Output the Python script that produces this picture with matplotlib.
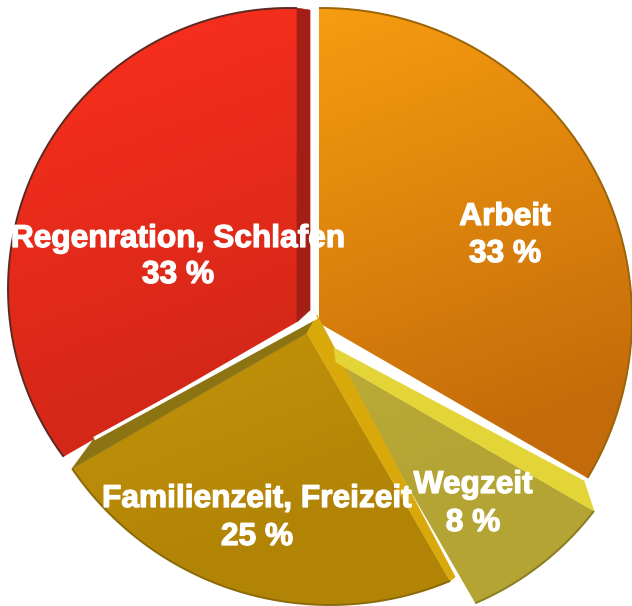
import numpy as np
import matplotlib.pyplot as plt
from matplotlib.patches import Polygon
from matplotlib.colors import to_rgb
import matplotlib.patheffects as pe

# data: hours per day
labels = ['Arbeit', 'Wegzeit', 'Familienzeit, Freizeit', 'Regenration, Schlafen']
hours = [8, 2, 6, 8]
percent = [round(h / sum(hours) * 100) for h in hours]

# look of the faux 3d pie (pixel units, y pointing down)
face_top = ['#ffa511', '#d2c242', '#d8a70e', '#fa2f1d']
face_bottom = ['#c36a0a', '#b3a434', '#b28406', '#c42416']
rim = ['#9a6408', '#8a7c20', '#8a6a08', '#5a2a22']
apex = [(319, 323), (336, 362), (307, 333), (297, 322)]
disc = [(322, 318, 310), (359, 331, 296), (330, 293, 312), (289, 289, 281)]
# (slice, edge, offset at apex, offset at rim, colour, white gap on top)
walls = [(2, 'end', (10, -16), (22, -30), '#8d7413', True),
         (2, 'start', (10, -18), (5, -4), '#d9a90c', False),
         (1, 'start', (-2, -14), (-10, -30), '#e3d538', False),
         (3, 'end', (13, -12), (13, 2), '#a31f15', False)]
label_pos = [(505, 225, 262), (473, 493, 531), (257, 507, 545), (178, 247, 283)]
draw_order = [3, 2, 1, 0]

W, H = 632, 606
fig = plt.figure(figsize=(W / 100, H / 100), dpi=100)
ax = fig.add_axes([0, 0, 1, 1])
ax.set_xlim(0, W)
ax.set_ylim(H, 0)
ax.axis('off')


def ray_hit(a, c, r, ang):
    d = np.array([np.cos(np.radians(ang)), -np.sin(np.radians(ang))])
    p = np.array(a, float) - np.array(c, float)
    b = p @ d
    t = -b + np.sqrt(b * b - (p @ p - r * r))
    return np.array(a, float) + t * d


total = sum(hours)
cum = np.concatenate([[0], np.cumsum(hours)])
start = 90 - 360 * cum[:-1] / total
end = 90 - 360 * cum[1:] / total

yy, xx = np.mgrid[0:H, 0:W]
t = np.clip((xx * 0.35 + yy * 0.94 - 40) / 560, 0, 1)[..., None]

for i in draw_order:
    a = np.array(apex[i], float)
    cx, cy, r = disc[i]
    p1 = ray_hit(a, (cx, cy), r, start[i])
    p2 = ray_hit(a, (cx, cy), r, end[i])
    f1 = np.degrees(np.arctan2(-(p1[1] - cy), p1[0] - cx))
    f2 = np.degrees(np.arctan2(-(p2[1] - cy), p2[0] - cx))
    while f2 > f1:
        f2 -= 360
    phi = np.radians(np.linspace(f1, f2, 200))
    arc = np.column_stack([cx + r * np.cos(phi), cy - r * np.sin(phi)])

    for (s, edge, vin, vout, col, gap) in walls:
        if s != i:
            continue
        q = p1 if edge == 'start' else p2
        quad = np.array([a, q, q + np.array(vout), a + np.array(vin)])
        ax.add_patch(Polygon(quad, closed=True, fc=col, ec=col, lw=0.5))
        if gap:
            ax.plot(quad[2:, 0], quad[2:, 1], color='white', lw=2.6,
                    solid_capstyle='butt')

    poly = np.vstack([a, arc])
    face = Polygon(poly, closed=True, fc='none', ec='none')
    ax.add_patch(face)
    # gradient, light top-left to dark bottom-right
    c0 = np.array(to_rgb(face_top[i]))
    c1 = np.array(to_rgb(face_bottom[i]))
    img = c0 * (1 - t) + c1 * t
    im = ax.imshow(img, extent=(0, W, H, 0), interpolation='bilinear')
    im.set_clip_path(face)
    ax.plot(arc[:, 0], arc[:, 1], color=rim[i], lw=1.4, solid_capstyle='butt')

fx = [pe.withStroke(linewidth=0.9, foreground='white')]
for i in range(len(labels)):
    x, y1, y2 = label_pos[i]
    ax.text(x, y1, labels[i], color='white', fontsize=22.8, fontweight='bold',
            family='Liberation Sans', ha='center', va='baseline', zorder=10,
            path_effects=fx)
    ax.text(x, y2, f'{percent[i]} %', color='white', fontsize=22.8, fontweight='bold',
            family='Liberation Sans', ha='center', va='baseline', zorder=10,
            path_effects=fx)

fig.savefig('out.png', dpi=100)
